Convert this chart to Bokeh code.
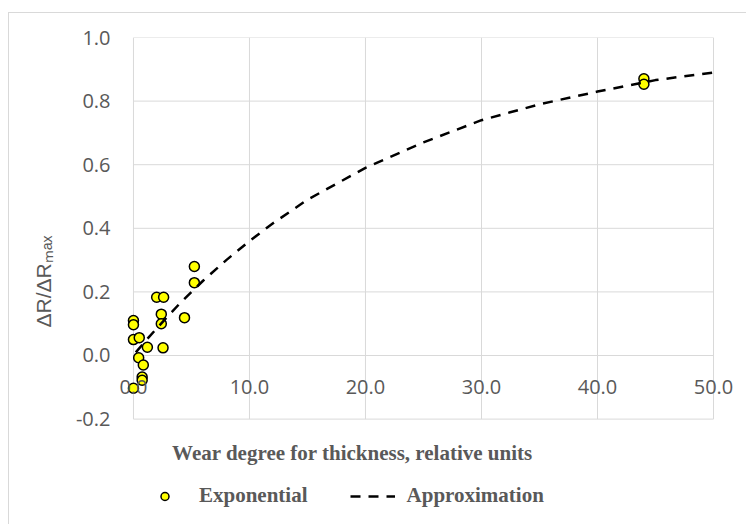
from bokeh.plotting import figure
from bokeh.models import FixedTicker, NumeralTickFormatter, Legend, LegendItem, Label
from bokeh.embed import file_html
from bokeh.resources import INLINE

# Measured series ("Exponential")
exp_x = [0.0, 0.0, 0.0, 0.0, 0.5, 0.45, 0.85, 0.75, 0.75, 1.2, 2.0, 2.6, 2.4, 2.4, 2.55, 4.4, 5.25, 5.25, 44.0, 44.0]
exp_y = [0.11, 0.097, 0.05, -0.103, 0.056, -0.007, -0.03, -0.068, -0.078, 0.026, 0.183, 0.183, 0.13, 0.10, 0.024, 0.119, 0.28, 0.229, 0.87, 0.853]

# Approximation curve
approx_x = [0.2, 1, 2, 3, 4, 5, 6, 8, 10, 12, 15, 20, 25, 30, 35, 40, 45, 50]
approx_y = [0.01, 0.044, 0.085, 0.125, 0.164, 0.20, 0.235, 0.30, 0.36, 0.415, 0.49, 0.59, 0.67, 0.74, 0.79, 0.83, 0.866, 0.89]

x_ticks = [0, 10, 20, 30, 40, 50]
y_ticks = [-0.2, 0.0, 0.2, 0.4, 0.6, 0.8, 1.0]

x_title = "Wear degree for thickness, relative units"
y_title = "ΔR/ΔRₘₐₓ"

GRAY = "#595959"
GRID = "#d9d9d9"

# The frame is extended past the gridded area so that the x labels, the x title
# and the legend (all drawn inside the frame) are not clipped.
p = figure(width=738, height=512, x_range=(-1.72, 52.93), y_range=(-0.5346, 1.0),
           output_backend="svg", toolbar_location=None,
           min_border_left=104, min_border_right=0, min_border_top=24, min_border_bottom=0,
           margin=(12, 0, 0, 8))
p.styles = {"border-left": "1px solid #d9d9d9", "border-top": "1px solid #d9d9d9"}
p.outline_line_color = None
p.background_fill_color = "white"
p.border_fill_color = "white"
p.grid.visible = False

# gridlines spanning only the ticked area
p.segment(x0=x_ticks, x1=x_ticks, y0=[y_ticks[0]] * len(x_ticks), y1=[y_ticks[-1]] * len(x_ticks),
          line_color=GRID, line_width=1)
p.segment(x0=[x_ticks[0]] * len(y_ticks), x1=[x_ticks[-1]] * len(y_ticks), y0=y_ticks, y1=y_ticks,
          line_color=GRID, line_width=1)

for ax in (p.xaxis, p.yaxis):
    ax.axis_line_color = None
    ax.major_tick_line_color = None
    ax.minor_tick_line_color = None
    ax.major_tick_out = 0
    ax.major_tick_in = 0
    ax.major_label_text_font = "Open Sans"
    ax.major_label_text_font_size = "20px"
    ax.major_label_text_color = GRAY
    ax.formatter = NumeralTickFormatter(format="0.0")

p.xaxis.ticker = FixedTicker(ticks=x_ticks)
p.yaxis.ticker = FixedTicker(ticks=y_ticks)
p.xaxis.fixed_location = 0
p.xaxis.major_label_standoff = 25

p.yaxis.major_label_standoff = 3
p.yaxis.axis_label = y_title
p.yaxis.axis_label_text_font = "Liberation Sans"
p.yaxis.axis_label_text_font_size = "21px"
p.yaxis.axis_label_text_font_style = "normal"
p.yaxis.axis_label_text_color = GRAY
p.yaxis.axis_label_standoff = 18

sc = p.scatter(exp_x, exp_y, size=10, fill_color="#ffff00", line_color="black", line_width=1.5)
ln = p.line(approx_x, approx_y, line_color="black", line_width=2.5, line_dash="10 8")

title = Label(x=239, y=73, x_units="screen", y_units="screen", text=x_title,
              text_align="center", text_baseline="middle",
              text_font="Liberation Serif", text_font_size="21px", text_font_style="bold",
              text_color=GRAY)
p.add_layout(title)

legend = Legend(items=[LegendItem(label="Exponential", renderers=[sc]),
                       LegendItem(label="Approximation", renderers=[ln])],
                orientation="horizontal", location=(29, 17),
                glyph_width=45, glyph_height=20, label_standoff=12, spacing=42,
                padding=0, margin=0, border_line_color=None, background_fill_alpha=0,
                label_text_font="Liberation Serif", label_text_font_style="bold",
                label_text_font_size="21px", label_text_color=GRAY)
p.add_layout(legend, "center")

open("out.html", "w").write(file_html(p, INLINE))
